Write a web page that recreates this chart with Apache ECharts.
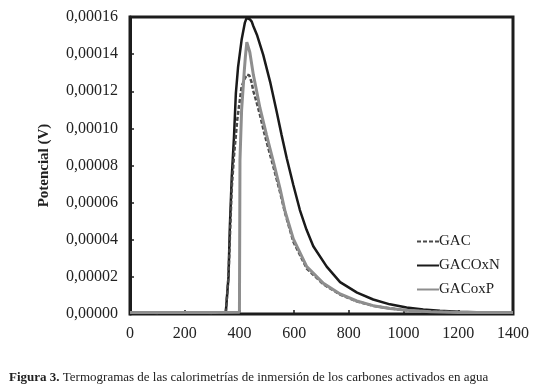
<!DOCTYPE html>
<html>
<head>
<meta charset="utf-8">
<script src="https://cdn.jsdelivr.net/npm/echarts@6/dist/echarts.min.js"></script>
<style>
  html, body { margin: 0; padding: 0; background: #fff; }
  #termograma { width: 536px; height: 391px; }
</style>
</head>
<body>
<div id="termograma"></div>
<script>
  // tiempo (s) y potencial (V)
  var gacX = [0, 100, 200, 300, 350, 354, 360, 366, 372, 380, 392, 408, 420, 428, 436, 444, 451, 463, 475, 490, 499, 524, 548, 567, 597, 646, 707, 768, 829, 889, 950, 1011, 1100, 1200, 1300, 1400];
  var gacY = [0.0000008, 0.0000006, 0.0000008, 0.0000006, 0.0000007, 0.000001, 0.00002, 0.000045, 0.000068, 0.000085, 0.0001046, 0.0001225, 0.000127, 0.000129, 0.0001285, 0.000125, 0.00012, 0.000114, 0.0001073, 0.000098, 0.0000929, 0.0000794, 0.0000659, 0.0000543, 0.000039, 0.0000245, 0.000016, 0.0000105, 0.0000068, 0.0000044, 0.000003, 0.000002, 0.0000014, 0.000001, 0.0000009, 0.0000008];

  var oxnX = [0, 100, 200, 300, 350, 353, 360, 365, 372, 380, 387, 395, 408, 420, 426, 432, 438, 445, 451, 465, 487, 512, 536, 554, 573, 597, 621, 645, 670, 719, 768, 830, 889, 950, 1011, 1072, 1133, 1200, 1300, 1400];
  var oxnY = [0.0000008, 0.0000006, 0.0000005, 0.0000005, 0.0000005, 0.000001, 0.00002, 0.000047, 0.000074, 0.000095, 0.000119, 0.000133, 0.0001477, 0.000157, 0.0001594, 0.00016, 0.0001588, 0.0001575, 0.000155, 0.00015, 0.0001396, 0.0001252, 0.0001091, 0.0000965, 0.0000839, 0.0000695, 0.000056, 0.0000455, 0.0000365, 0.0000255, 0.0000172, 0.0000115, 0.0000078, 0.0000052, 0.0000035, 0.0000024, 0.0000017, 0.0000012, 0.0000008, 0.0000006];

  var oxpX = [0, 100, 200, 300, 400, 402, 408, 418, 422, 427, 432, 438, 451, 463, 475, 499, 512, 524, 548, 567, 597, 646, 707, 768, 829, 889, 950, 1011, 1100, 1200, 1300, 1400];
  var oxpY = [0.0000008, 0.0000008, 0.0000008, 0.0000008, 0.000001, 0.000083, 0.00011, 0.0001315, 0.000139, 0.0001465, 0.0001462, 0.000141, 0.0001288, 0.00012, 0.000111, 0.0000965, 0.000089, 0.0000821, 0.0000678, 0.0000552, 0.0000405, 0.0000255, 0.0000165, 0.0000108, 0.000007, 0.0000045, 0.000003, 0.000002, 0.0000012, 0.0000008, 0.0000008, 0.0000008];

  var seriesNames = ['GAC', 'GACOxN', 'GACoxP'];
  var caption = 'Termogramas de las calorimetrías de inmersión de los carbones activados en agua';

  function pairs(xs, ys) {
    var out = [];
    for (var i = 0; i < xs.length; i++) {
      out.push([xs[i], ys[i]]);
    }
    return out;
  }

  var serif = 'Liberation Serif';
  var chart = echarts.init(document.getElementById('termograma'));

  var legendData = [];
  for (var k = 0; k < seriesNames.length; k++) {
    legendData.push({ name: seriesNames[k], itemStyle: { opacity: 0 } });
  }

  var option = {
    animation: false,
    textStyle: { fontFamily: serif },
    title: {
      left: 4,
      top: 366,
      text: '{b|Figura 3.} ' + caption,
      textStyle: {
        fontFamily: serif,
        fontSize: 13,
        fontWeight: 'normal',
        color: '#222',
        rich: {
          b: { fontFamily: serif, fontSize: 13, fontWeight: 'bold', color: '#222' }
        }
      }
    },
    legend: {
      left: 411,
      top: 229,
      orient: 'vertical',
      itemWidth: 22,
      itemHeight: 10,
      itemGap: 9,
      data: legendData,
      textStyle: { fontFamily: serif, fontSize: 15, color: '#222', padding: [0, 0, 0, -5] }
    },
    grid: {
      left: 130,
      right: 23,
      top: 17,
      bottom: 77,
      show: true,
      borderColor: '#1c1c1c',
      borderWidth: 3,
      backgroundColor: 'transparent'
    },
    xAxis: {
      type: 'value',
      min: 0,
      max: 1400,
      interval: 200,
      axisLine: { lineStyle: { color: '#1c1c1c', width: 2 } },
      axisTick: { inside: true, length: 4, lineStyle: { color: '#1c1c1c', width: 1.5 } },
      axisLabel: {
        fontFamily: serif,
        fontSize: 16,
        color: '#222',
        margin: 12,
        formatter: function (v) { return String(v); }
      },
      splitLine: { show: false }
    },
    yAxis: {
      type: 'value',
      min: 0,
      max: 0.00016,
      interval: 0.00002,
      name: 'Potencial (V)',
      nameLocation: 'middle',
      nameGap: 78,
      nameTextStyle: { fontFamily: serif, fontSize: 15, fontWeight: 'bold', color: '#222' },
      axisLine: { lineStyle: { color: '#1c1c1c', width: 3 } },
      axisTick: { inside: true, length: 4, lineStyle: { color: '#1c1c1c', width: 1.5 } },
      axisLabel: {
        fontFamily: serif,
        fontSize: 16,
        color: '#222',
        margin: 12,
        formatter: function (v) { return v.toFixed(5).replace('.', ','); }
      },
      splitLine: { show: false }
    },
    series: [
      {
        name: 'GAC',
        type: 'line',
        symbol: 'none',
        z: 3,
        data: pairs(gacX, gacY),
        itemStyle: { color: '#4a4a4a' },
        lineStyle: { color: '#4a4a4a', width: 2.5, type: [4, 2] }
      },
      {
        name: 'GACOxN',
        type: 'line',
        symbol: 'none',
        z: 2,
        data: pairs(oxnX, oxnY),
        itemStyle: { color: '#1a1a1a' },
        lineStyle: { color: '#1a1a1a', width: 2.5 }
      },
      {
        name: 'GACoxP',
        type: 'line',
        symbol: 'none',
        z: 4,
        data: pairs(oxpX, oxpY),
        itemStyle: { color: '#8e8e8e' },
        lineStyle: { color: '#8e8e8e', width: 3 }
      }
    ]
  };

  chart.setOption(option);
</script>
</body>
</html>
